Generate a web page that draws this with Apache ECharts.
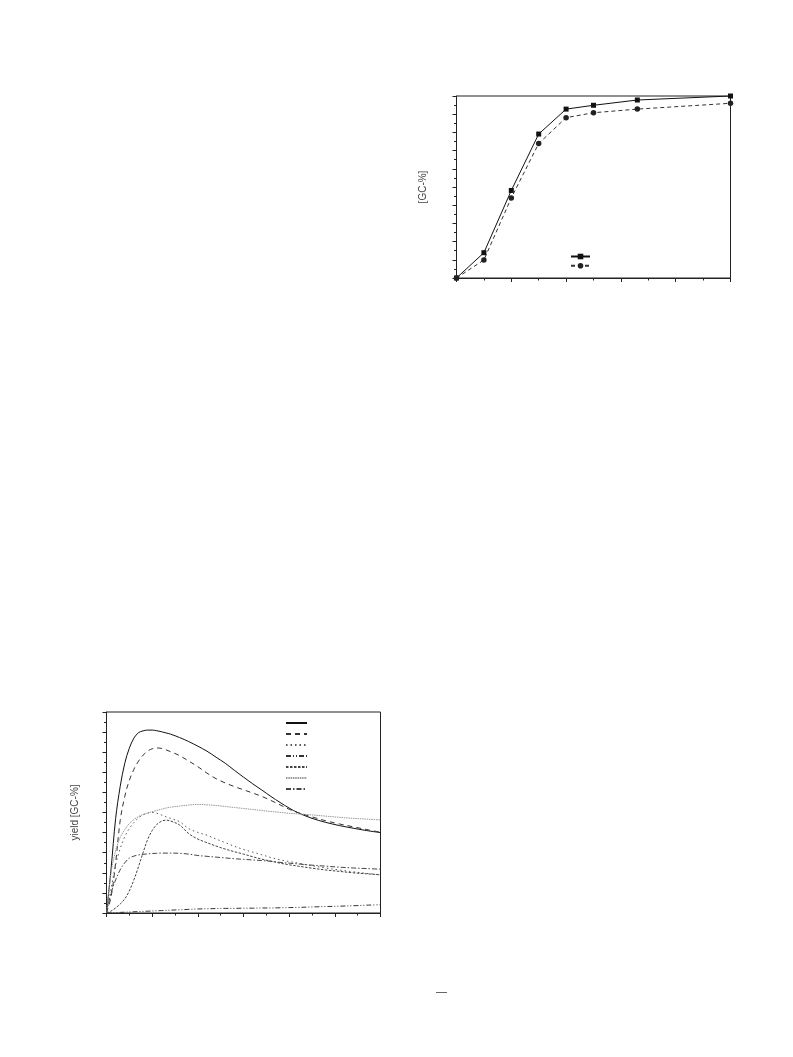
<!DOCTYPE html>
<html>
<head>
<meta charset="utf-8">
<script src="https://cdn.jsdelivr.net/npm/echarts@6/dist/echarts.min.js"></script>
<style>
html,body{margin:0;padding:0;background:#fff;}
#c{width:793px;height:1057px;}
</style>
</head>
<body>
<div id="c"></div>
<script>
// ---- top chart data ----
const topX = [0, 1, 2, 3, 4, 5, 6.6, 10];
const topSquare = [0, 13.9, 48.1, 79.1, 92.8, 94.9, 97.8, 100];
const topCircle = [0, 9.9, 44.0, 73.9, 88.1, 90.8, 92.8, 96.0];
const topYLabel = '[GC-%]';

// ---- bottom chart data ----
const botX = [0,1,2,3,4,5,6,7,8,9,10,11,12,13,14,16,18,20,22,24,26,28,30,32,34,36,38,40,42,45,48,51,54,57,60];
const botSolid = [0,22,47,63,74.5,82,87,89.7,90.6,91,91,90.7,90.2,89.6,89,87.3,85.3,83,80.5,77.5,74.5,71,67.6,64.3,61.2,58,55,52.2,49.8,47.1,45.1,43.5,42.2,41,40];
const botDashed = [0,8,25,46,58,66,71.5,75.5,78.5,80.5,81.7,82.1,81.9,81.2,80.3,78.3,75.6,72.8,69.6,66.8,64.7,62.9,61.3,59.7,58,56,53.8,51.6,49.9,47.8,45.9,44.3,42.9,41.5,40.2];
const botDotted = [0,12,24,32,38,42,45,47.3,48.8,49.7,50,49.6,48.8,47.9,47.1,45.4,42,40.1,38.7,36.8,35,33.2,31.6,30.3,29,27.6,26.5,25.6,24.8,23.5,22.4,21.4,20.5,19.7,19.0];
const botDashDotDot = [0,0.1,0.2,0.3,0.4,0.5,0.6,0.7,0.8,0.9,1.0,1.1,1.2,1.3,1.4,1.6,1.8,2.0,2.1,2.2,2.3,2.3,2.4,2.4,2.5,2.5,2.6,2.7,2.8,3.0,3.2,3.4,3.6,3.9,4.1];
const botShortDash = [0,1,2.5,4.5,7,11,16.5,23,30,36.5,41,44,45.6,46.2,45.8,43.8,39.5,36.8,35,33.3,31.8,30.5,29.3,28,26.8,25.8,24.8,24,23.3,22.3,21.4,20.7,20,19.5,19.0];
const botGray = [0,20,31,37.5,41.5,44.5,46.5,48,49,49.8,50.4,51,51.6,52.2,52.6,53.2,53.7,54,53.8,53.5,53,52.5,52,51.5,51,50.5,50.1,49.6,49.3,48.8,48.2,47.6,47.1,46.7,46.3];
const botDashDot = [0,10,16.5,21.5,25,27.3,28.3,28.9,29.2,29.4,29.6,29.7,29.8,29.8,29.8,29.7,29.3,28.6,28.2,27.8,27.4,27,26.7,26.4,26.1,25.7,25.2,24.8,24.4,23.8,23.3,22.8,22.4,22.1,21.8];
const botYLabel = 'yield [GC-%]';

function pairs(xs, ys){ return xs.map((x,i)=>[x, ys[i]]); }

const axisCol = '#222';
const font = 'Liberation Sans, Arial, sans-serif';

function xAx(gi, max, interval){
  return {
    type:'value', gridIndex:gi, min:0, max:max, interval:interval,
    axisLine:{show:true, onZero:false, lineStyle:{color:axisCol, width:1}},
    axisTick:{show:true, inside:false, length:4, lineStyle:{color:axisCol}},
    minorTick:{show:true, splitNumber:2, length:2.5, lineStyle:{color:axisCol}},
    axisLabel:{show:false}, splitLine:{show:false}
  };
}
function yAx(gi, name, gap){
  return {
    type:'value', gridIndex:gi, min:0, max:100, interval:10,
    name:name, nameLocation:'middle', nameGap:gap, nameRotate:90,
    nameTextStyle:{fontFamily:font, fontSize:10, color:'#444'},
    axisLine:{show:true, onZero:false, lineStyle:{color:axisCol, width:1}},
    axisTick:{show:true, inside:false, length:4, lineStyle:{color:axisCol}},
    minorTick:{show:true, splitNumber:2, length:2.5, lineStyle:{color:axisCol}},
    axisLabel:{show:false}, splitLine:{show:false}
  };
}

function botSeries(name, data, color, type, width){
  return {
    name:name, type:'line', xAxisIndex:1, yAxisIndex:1,
    data:pairs(botX, data), showSymbol:false, symbol:'none',
    smooth:0.35,
    lineStyle:{color:color, width:width, type:type},
    itemStyle:{color:color}, animation:false
  };
}

const option = {
  animation:false,
  backgroundColor:'#fff',
  grid:[
    {left:456.5, top:96, width:274, height:182, show:true, borderColor:axisCol, borderWidth:1, containLabel:false},
    {left:106.5, top:712, width:274, height:201, show:true, borderColor:axisCol, borderWidth:1, containLabel:false}
  ],
  xAxis:[ xAx(0, 10, 2), xAx(1, 60, 10) ],
  yAxis:[ yAx(0, topYLabel, 28), yAx(1, botYLabel, 26) ],
  legend:[
    {
      data:['sq','ci'], orient:'vertical', left:565, top:248,
      itemWidth:19, itemHeight:7, itemGap:3,
      formatter:()=>'', textStyle:{fontSize:1}
    },
    {
      data:['b1','b2','b3','b4','b5','b6','b7'], orient:'vertical', left:280, top:713,
      itemWidth:21, itemHeight:10, itemGap:2,
      itemStyle:{opacity:0},
      formatter:()=>'', textStyle:{fontSize:1}
    }
  ],
  series:[
    {name:'sq', type:'line', xAxisIndex:0, yAxisIndex:0, data:pairs(topX, topSquare),
     symbol:'rect', symbolSize:5, lineStyle:{color:'#111', width:1}, itemStyle:{color:'#111'}},
    {name:'ci', type:'line', xAxisIndex:0, yAxisIndex:0, data:pairs(topX, topCircle),
     symbol:'circle', symbolSize:5.5, lineStyle:{color:'#333', width:1, type:[4,3]}, itemStyle:{color:'#222'}},
    botSeries('b1', botSolid, '#111', 'solid', 1),
    botSeries('b2', botDashed, '#333', [5,4], 1),
    botSeries('b3', botDotted, '#555', [1.5,3], 1),
    botSeries('b4', botDashDotDot, '#333', [5,2,1,2,1,2], 1),
    botSeries('b5', botShortDash, '#444', [2.5,1.5], 1),
    botSeries('b6', botGray, '#999', [1.5,0.8], 1),
    botSeries('b7', botDashDot, '#444', [5,2,1.5,2], 1)
  ],
  graphic:[
    {type:'line', shape:{x1:436, y1:992.5, x2:447, y2:992.5}, style:{stroke:'#666', lineWidth:1}}
  ]
};

const chart = echarts.init(document.getElementById('c'), null, {renderer:'canvas'});
chart.setOption(option);
</script>
</body>
</html>
